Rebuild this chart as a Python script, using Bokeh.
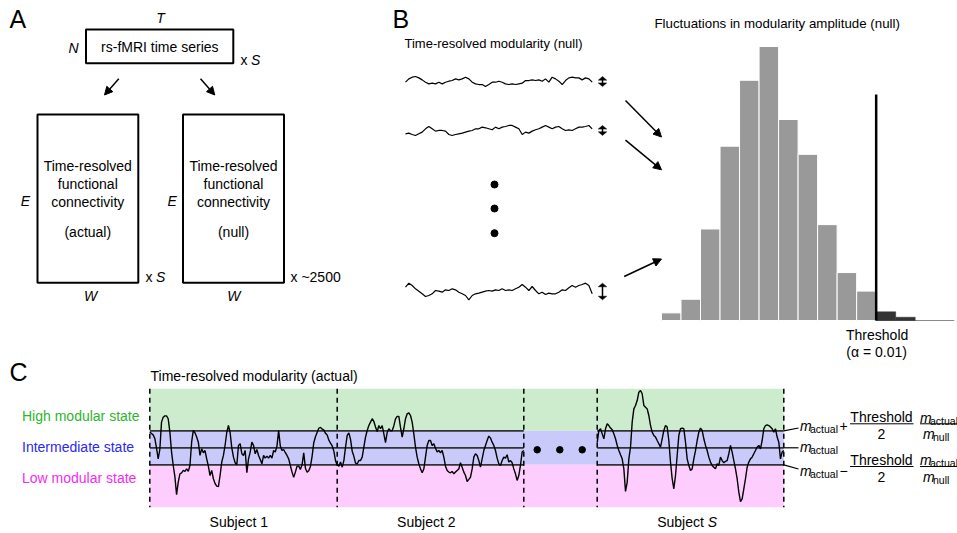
import numpy as np
from bokeh.plotting import figure
from bokeh.models import Range1d, Arrow, NormalHead
from bokeh.core.properties import value
from bokeh.embed import file_html
from bokeh.resources import INLINE

FONT = "Liberation Sans"

# ------------------------------------------------------------------ data
# Panel B: null distribution of modularity-amplitude fluctuations (counts of ~2500 nulls)
hist_counts = [14, 39, 168, 320, 441, 503, 369, 305, 176, 88, 54, 16, 6]
threshold_bin = 11            # bins from here on lie beyond the alpha = 0.01 threshold

# Panel B: example null time-resolved modularity traces (deviation from mean, a.u.)
null_trace_1 = [-0.3, 0.7, 1.2, 1.4, 1.0, 0.4, -0.3, -0.8, -0.6, -0.8, -0.3, -0.8, -0.3, 0.0, 0.2,
                0.7, 0.4, 0.7, 1.2, 0.7, -0.3, -0.8, -1.0, -1.0, -1.6, -1.0, -0.3, -0.3, 0.0, -0.3,
                -0.8, -1.0, -0.8, -1.0, -0.8, -0.6, 0.2, 0.2, 0.4, 0.2, 0.4, 0.0, 0.7, -0.3, 1.2,
                0.7, 0.0, -1.0, 0.2, 1.0, 1.2, 1.0, 1.0, 0.4, 1.0, 0.7, -0.3]
null_trace_2 = [-1.2, -1.0, -1.4, -1.7, -1.2, -0.7, 0.3, 1.0, 0.3, -0.4, -0.2, -0.2, -0.4, -1.4, -1.7,
                -1.4, -1.2, -1.0, -0.7, -0.4, -0.2, 0.3, 0.3, 0.8, 0.6, 0.3, 0.0, 0.8, 0.3, 0.8,
                1.0, 1.3, 1.3, 0.8, 0.3, -1.4, -0.7, -1.0, -0.4, 0.0, 0.3, 0.8, 1.3, 0.8, 0.3,
                0.8, 1.0, 0.3, -0.2, 0.0, -0.2, 0.3, 0.8, 0.8, 1.0, 1.3, 0.3]
null_trace_3 = [1.0, 2.2, 1.5, 0.5, -0.2, -1.0, -1.8, -1.5, -1.0, 0.0, -0.2, -0.5, 0.2, 0.0, 0.5,
                0.2, -0.5, -1.0, -1.5, -2.8, -1.5, -1.0, -0.8, -0.5, -0.2, 0.0, -0.2, 0.2, 0.0, 0.5,
                0.0, 0.2, 0.0, 0.5, 1.0, 1.8, 1.0, 0.0, 1.2, 0.0, -1.0, -0.5, -1.2, -0.8, -1.0,
                -1.0, -0.5, 0.2, 0.0, 0.8, 1.5, 1.0, 1.5, 1.8, 2.2, 1.5, -1.0]

# Panel C: actual time-resolved modularity, deviation from m_actual
# in units of (Threshold/2)(m_actual/m_null); +/-1 are the state boundaries
subject_1 = [0.92, 0.84, 0.76, 0.55, 0.0, -0.65, -0.1, 1.51, 1.80, 1.88,
             1.88, 1.71, 0.92, -0.25, -1.04, -1.7, -2.76, -2.02, -1.53, -1.47,
             -1.33, -1.39, -1.24, -1.39, -1.04, 0.33, 1.02, 0.88, 0.63, 0.33,
             -0.45, -0.06, -0.29, -0.16, -0.65, -1.08, -1.63, -1.33, -1.82, -2.1,
             -2.25, -2.28, -1.63, -0.84, -0.45, 0.15, 0.9, 1.31, 0.9, 0.0,
             -0.55, -0.88, -1.0, 0.14, 0.24, -0.35, -0.45, -0.16, -1.47, -0.65,
             -0.25, 0.33, 0.14, -0.35, -0.10, -0.45, -0.69, -0.94, -0.45, -0.61,
             -0.49, -0.61, -0.45, -0.61, -0.16, -0.25, 0.10, 1.02, 0.10, -0.16,
             -0.10, -0.29, -0.45, -0.65, -1.04, -1.43, -1.73, -1.43, -1.08, -1.08,
             -1.27, -1.0, -0.3, -1.2, -1.43, -1.35, -1.1, -0.5, 0.3, 0.65,
             0.9, 1.15, 1.2, 1.1, 1.05, 0.85, 0.75, 0.45, 0.28, 0.12,
             -0.2, -0.75, -1.04]
subject_2 = [-1.0, -1.08, -0.84, -1.14, -0.75, 0.04, 0.73, 0.88, 0.5, -0.2,
             -0.5, -0.9, -0.95, -0.75, -0.75, -0.55, 0.04, 0.63, 1.02, 1.31,
             1.51, 1.71, 1.55, 1.22, 0.96, 1.31, 1.12, 1.31, 0.82, 0.3,
             0.9, 1.12, 1.0, 1.0, 1.3, 1.7, 1.85, 1.85, 1.2, 0.63,
             1.12, 1.71, 2.0, 2.06, 1.90, 1.51, 0.82, 0.04, -0.55, -0.94,
             -1.24, -1.47, -1.24, -0.55, 0.14, 0.43, 0.43, 0.14, 0.24, -0.02,
             -0.25, -0.16, -0.29, -0.16, -0.55, -1.08, -1.33, -1.43, -1.47, -1.39,
             -1.53, -1.43, -1.33, -1.24, -0.88, -1.14, -1.43, -1.63, -1.98, -1.86,
             -1.73, -1.24, -0.55, -0.35, -0.45, -0.75, -1.14, -0.65, -0.16, 0.14,
             0.43, 0.69, 0.57, 0.33, 0.14, -0.16, -0.61, -0.94, -1.04, -0.75,
             -0.55, -0.61, -0.41, -0.84, -0.75, -0.88, -1.24, -1.53, -1.92, -1.63,
             -1.04, -0.25, -0.16]
subject_S = [0.3, 1.02, 1.12, 0.82, 0.53, 1.12, 1.41, 1.31, 1.16, 1.06,
             0.82, 0.53, 0.14, -0.16, -0.41, -0.65, -1.24, -2.57, -2.02, -0.65,
             0.04, 1.51, 2.29, 2.49, 2.78, 3.27, 3.37, 3.18, 2.49, 2.39,
             2.29, 1.90, 1.31, 0.92, 0.73, 0.63, 0.43, 0.24, 0.04, 0.53,
             1.02, 1.31, 1.22, 0.43, -0.84, -1.82, -2.41, -1.63, -0.45, 0.73,
             1.12, 1.16, 1.12, 0.33, -0.65, -1.04, -1.33, -1.24, -0.65, -0.16,
             0.43, 0.92, 1.16, 1.02, 0.53, 0.14, -0.16, -0.55, -0.84, -1.04,
             -1.14, -1.24, -0.94, -1.04, -0.55, -0.75, -0.88, -0.80, -0.75, -0.35,
             0.14, -0.25, -0.75, -1.24, -1.82, -2.61, -3.16, -3.0, -2.41, -1.82,
             -1.14, -0.84, -0.65, -0.55, -0.35, -0.16, 0.04, 0.14, -0.06, 0.43,
             1.12, 1.31, 1.35, 1.31, 1.22, 1.12, 0.92, 1.12, 0.63, 0.33,
             -0.65, -0.25, -0.16]
subject_labels = ["Subject 1", "Subject 2", "Subject"]
state_boundaries = [1.0, 0.0, -1.0]      # upper threshold, m_actual, lower threshold
state_names = ["High modular state", "Intermediate state", "Low modular state"]
state_text_colors = ["#2eb52e", "#2a2af2", "#f22af2"]
state_band_colors = ["#cdebcd", "#cacafa", "#fdcdfd"]

# ------------------------------------------------------------------ canvas
PAGE = 0
W, H = 957, 533
X_LO, X_HI = PAGE, PAGE + W          # screen x at frame left / right
Y_LO, Y_HI = PAGE + H, PAGE          # screen y at frame bottom / top


def fit(d0, d1, s0, s1, lo, hi):
    """Range whose data d0, d1 fall on screen positions s0, s1."""
    k = (d1 - d0) / (s1 - s0)
    return Range1d(start=d0 + (lo - s0) * k, end=d0 + (hi - s0) * k)


p = figure(width=W, height=H, x_range=Range1d(X_LO, X_HI), y_range=Range1d(Y_LO, Y_HI),
           output_backend="svg", toolbar_location=None, min_border=0)
p.axis.visible = False
p.grid.visible = False
p.outline_line_color = None
p.background_fill_color = "white"

# layout of sub-panels (screen px)
C_MID, C_UNIT = 447.3, 17.0
C_TOP, C_BOT = 388.3, 506.7
subj_spans = [(149.3, 336.7), (336.7, 523.3), (596.7, 783.3)]
subj_series = [subject_1, subject_2, subject_S]
subj_names = ["s1", "s2", "sS"]
null_rows = [80.7, 129.3, 290.0]
NULL_UNIT = 3.333
null_series = [null_trace_1, null_trace_2, null_trace_3]
AMP_X = 602

p.extra_x_ranges = {
    "bx": fit(0, len(null_trace_1) - 1, 405, 591.7, X_LO, X_HI),
    "hx": fit(0, len(hist_counts), 661, 914.7, X_LO, X_HI),
}
for nm, (a, b), s in zip(subj_names, subj_spans, subj_series):
    p.extra_x_ranges[nm] = fit(0, len(s) - 1, a, b, X_LO, X_HI)
p.extra_y_ranges = {
    "hy": fit(0, max(hist_counts), 320, 46, Y_LO, Y_HI),
    "cy": fit(0, 1, C_MID, C_MID - C_UNIT, Y_LO, Y_HI),
}
for i, row in enumerate(null_rows):
    p.extra_y_ranges["b%d" % (i + 1)] = fit(0, 1, row, row - NULL_UNIT, Y_LO, Y_HI)


def txt(x, y, s, size=14, align="left", style="normal", color="black", xr="default", yr="default"):
    p.text(x=[x], y=[y], text=[s], text_font=value(FONT), text_font_size="%gpx" % size,
           text_align=align, text_baseline="middle", text_font_style=style, text_color=color,
           x_range_name=xr, y_range_name=yr)


def arrow(x0, y0, x1, y1, size=8, lw=1.5):
    p.add_layout(Arrow(end=NormalHead(size=size, fill_color="black", line_color="black", line_width=1),
                       x_start=x0, y_start=y0, x_end=x1, y_end=y1, line_width=lw, line_color="black"))


# ------------------------------------------------------------------ panel A
txt(9, 18, "A", size=25)
txt(160, 17, "T", style="italic", align="center")
txt(73, 47, "N", style="italic", align="center")
p.quad(left=[85.5, 37, 182.5], right=[232.8, 137.8, 283.5], top=[29, 114, 114],
       bottom=[62.8, 282.2, 282.2], fill_color=None, line_color="black", line_width=2)
txt(159.3, 46.7, "rs-fMRI time series", align="center")
txt(240, 59.5, "x")
txt(250.5, 59.5, "S", style="italic")
arrow(118.3, 78.3, 104, 94.5, size=8)
arrow(200, 78.3, 214.3, 94.5, size=8)
for cx, last in [(87.3, "(actual)"), (233, "(null)")]:
    for yy, s in [(165, "Time-resolved"), (183.3, "functional"), (201.7, "connectivity"), (231.7, last)]:
        txt(cx, yy, s, align="center")
txt(25, 200, "E", style="italic", align="center")
txt(171.7, 200, "E", style="italic", align="center")
txt(145, 276, "x")
txt(155.5, 276, "S", style="italic")
txt(290, 276, "x ~2500")
txt(90, 295.5, "W", style="italic", align="center")
txt(233.3, 295.5, "W", style="italic", align="center")

# ------------------------------------------------------------------ panel B
txt(392, 18, "B", size=25)
txt(404, 43.3, "Time-resolved modularity (null)", size=13)
txt(654, 23.3, "Fluctuations in modularity amplitude (null)", size=13.3)
HEAD_W, HEAD_H = 4.2, 3.6 / NULL_UNIT     # half-width (px), height (data units)
for i, s in enumerate(null_series):
    yr = "b%d" % (i + 1)
    p.line(x=np.arange(len(s)), y=s, x_range_name="bx", y_range_name=yr,
           line_color="black", line_width=1.2)
    lo, hi = min(s), max(s)          # amplitude of the fluctuation
    p.segment(x0=[AMP_X], x1=[AMP_X], y0=[lo + HEAD_H * 0.5], y1=[hi - HEAD_H * 0.5],
              y_range_name=yr, line_color="black", line_width=1.5)
    p.patches(xs=[[AMP_X, AMP_X - HEAD_W, AMP_X + HEAD_W], [AMP_X, AMP_X - HEAD_W, AMP_X + HEAD_W]],
              ys=[[hi, hi - HEAD_H, hi - HEAD_H], [lo, lo + HEAD_H, lo + HEAD_H]],
              y_range_name=yr, fill_color="black", line_color="black", line_width=0.5)
p.scatter(x=[494, 494, 494], y=[184, 208, 232.7], size=7, color="black")
arrow(625, 100, 661, 136.5, size=8)
arrow(625, 139.7, 661, 169.3, size=8)
arrow(623.7, 276, 661, 258.5, size=8)

edges = np.arange(len(hist_counts) + 1)
beyond = edges[:-1] >= threshold_bin
p.line(x=[0, 15], y=[0, 0], x_range_name="hx", y_range_name="hy", line_color="#8a8a8a", line_width=1)
p.quad(left=edges[:-1][~beyond], right=edges[1:][~beyond], bottom=0,
       top=np.array(hist_counts)[~beyond], x_range_name="hx", y_range_name="hy",
       fill_color="#999999", line_color="white", line_width=1)
p.quad(left=edges[:-1][beyond], right=edges[1:][beyond], bottom=0,
       top=np.array(hist_counts)[beyond], x_range_name="hx", y_range_name="hy",
       fill_color="#333333", line_color="#333333", line_width=0.5)
p.line(x=[threshold_bin, threshold_bin], y=[94, 320], x_range_name="hx",
       line_color="black", line_width=2.5)
txt(threshold_bin + 0.05, 334, "Threshold", align="center", xr="hx")
txt(threshold_bin + 0.02, 351, "(\u03b1 = 0.01)", align="center", xr="hx")

# ------------------------------------------------------------------ panel C
txt(9, 371, "C", size=25)
txt(150, 375, "Time-resolved modularity (actual)")
c_top_v = (C_MID - C_TOP) / C_UNIT
c_bot_v = (C_MID - C_BOT) / C_UNIT
left_x, right_x = subj_spans[0][0], subj_spans[-1][1]
p.quad(left=left_x, right=right_x, top=[c_top_v, state_boundaries[0], state_boundaries[2]],
       bottom=[state_boundaries[0], state_boundaries[2], c_bot_v], y_range_name="cy",
       fill_color=state_band_colors, line_color=None)
for nm, s in zip(subj_names, subj_series):
    n = len(s) - 1
    p.segment(x0=[0] * 3, x1=[n] * 3, y0=state_boundaries, y1=state_boundaries,
              x_range_name=nm, y_range_name="cy", line_color="#333333", line_width=1.8)
for nm, s in zip(subj_names, subj_series):
    p.line(x=np.arange(len(s)), y=s, x_range_name=nm, y_range_name="cy",
           line_color="black", line_width=1.4)
dash_x = [subj_spans[0][0], subj_spans[1][0], subj_spans[1][1], subj_spans[2][0], subj_spans[2][1]]
p.segment(x0=dash_x, x1=dash_x, y0=C_TOP, y1=C_BOT, line_color="black", line_width=1.5,
          line_dash="5 4")
p.scatter(x=[536.7, 559.3, 581.7], y=[449.3] * 3, size=6.5, color="black")
for yy, nm, col in zip([415, 446.7, 477.3], state_names, state_text_colors):
    txt(21.5, yy, nm, size=14, color=col)
txt(238.3, 521, subject_labels[0], align="center")
txt(425.8, 521, subject_labels[1], align="center")
txt(656.7, 521, subject_labels[2])
txt(707.3, 521, "S", style="italic")

# formula annotations for the three state boundaries
p.segment(x0=[783.3] * 3, x1=[798] * 3, y0=[430.3, 447.3, 464.3], y1=[427.5, 447.3, 468.5],
          line_color="black", line_width=1.2)


def m_sub(x, y, sub):
    txt(x, y, "m", size=14, style="italic")
    txt(x + 10, y + 3, sub, size=10.5)


for y_bar, sign in [(423.3, "+"), (466.0, "\u2212")]:
    y_m = y_bar + 2.5 if sign == "+" else y_bar + 4.5
    m_sub(799.5, y_m, "actual")
    txt(839, y_m - 0.5, sign, size=14)
    txt(881, y_bar - 7, "Threshold", align="center")
    txt(881, y_bar + 10.5, "2", align="center")
    m_sub(919.5, y_bar - 6.3, "actual")
    m_sub(922.5, y_bar + 10.2, "null")
    p.segment(x0=[849.5, 919.5], x1=[913, 957], y0=[y_bar, y_bar], y1=[y_bar, y_bar],
              line_color="black", line_width=1)
m_sub(799.5, 446.5, "actual")

open("out.html", "w").write(file_html(p, INLINE))
